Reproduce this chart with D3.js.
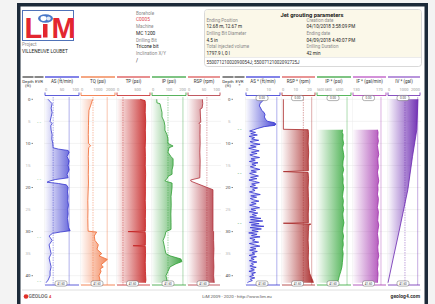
<!DOCTYPE html>
<html>
<head>
<meta charset="utf-8">
<script src="https://cdn.jsdelivr.net/npm/d3@7"></script>
<style>
body{margin:0;background:#f3f3f3;font-family:Roboto,"Open Sans",sans-serif;}
svg{display:block}
</style>
</head>
<body>
<svg id="chart" width="435" height="304"></svg>
<script>
// ---- data ----
var depthMax = 41.6;
var depthTicks = [0,5,10,15,20,25,30,35,40];
var evrLeft = [5.4,18.3,31.5,41.4];
var evrRight = [6.9,17.0,28.3];

var boreholeInfo = [["Borehole","C0005"],["Machine","MC 1200"],["Drilling Bit","Tricone bit"],["Inclination X/Y","/"]];
var jetLeft = [["Ending Position","12.68 m, 12.67 m"],["Drilling Bit Diameter","4.5 in"],["Total injected volume","1797.9 l, 0 l"]];
var jetRight = [["Creation date","04/10/2018 3:58:09 PM"],["Ending date","04/09/2018 4:40:07 PM"],["Drilling Duration","42 min"]];
var jetIds = "55007121002090054J; 55007121002092725J";

// [depth ft, value]
var asLeft = [[0,9],[0.5,15],[1,21],[2,18],[3,21],[4,18],[5,15],[5.5,21],[6,17],[7,18],[8,21],[9,20],[10,23],[11,24],[11.3,40],[11.6,68],[12,71],[13,65],[14,71],[15,68],[16,71],[17,65],[17.8,68],[18.2,30],[18.5,15],[18.8,6],[19.1,40],[19.4,63],[20,68],[21,66],[22,68],[23,67],[24,69],[25,67],[26,68],[27,66],[28,68],[29,69],[29.8,74],[30.1,45],[30.4,22],[31,12],[32,21],[33,12],[34,15],[35,18],[36,12],[37,15],[38,18],[39,15],[40,15],[41,9],[41.6,3]];
var tqLeft = [[0,700],[0.4,650],[0.8,620],[1.5,560],[2.5,470],[4,450],[6,440],[8,430],[10,440],[10.5,570],[11,450],[13,430],[15,440],[17,430],[19,440],[21,420],[23,400],[25,410],[27,400],[29,410],[29.9,420],[30.1,920],[31,780],[32,820],[33,1020],[34,940],[35,1220],[35.5,1060],[36.3,1550],[36.8,1410],[37.5,1180],[38,1310],[38.5,1120],[39,1180],[40,1060],[41,1120],[41.6,1000]];
var tpLeft = [[0,560],[0.3,680],[1,690],[3,685],[5,695],[7,688],[9,692],[11,684],[13,690],[15,686],[17,694],[19,688],[21,690],[23,686],[25,692],[27,688],[29,690],[29.9,685],[30,270],[30.15,685],[31,690],[33.1,688],[33.2,390],[33.35,688],[35,692],[37,686],[39,690],[40,694],[41,700],[41.6,690]];
var ipLeft = [[0,28],[0.8,29],[1,47],[2,53],[3,59],[4,59],[5,71],[6,76],[7,76],[8,88],[9,94],[10,94],[10.6,124],[11,100],[12,94],[13,112],[13.5,124],[14,124],[15,124],[16,118],[17,118],[17.5,94],[18,88],[18.5,76],[19,118],[20,118],[22,112],[24,113],[26,111],[28,112],[29.5,112],[30,82],[31,76],[32,65],[33,71],[34,76],[35,82],[35.5,106],[36.2,170],[36.8,176],[37.3,141],[38,106],[39,94],[40,82],[41,88],[41.6,82]];
var rspLeft = [[0,45],[1,46],[2,44],[2.2,38],[4,39],[5.2,40],[5.4,34],[5.7,38],[8,37.5],[10,38],[12,37],[14,38],[16,37.5],[17.8,37],[18.3,8],[18.6,10],[20.5,78],[22,78],[25,78],[28,78],[29.8,78],[30,80],[32,80],[34,81],[36,80],[38,81],[40,80],[41.6,82]];

var asRight = [[0,8.1],[0.3,7.5],[0.6,6.8],[1,6.2],[1.5,5.9],[2,6.5],[2.5,6.9],[3,8.0],[3.5,8.4],[4,8.1],[4.5,8.6],[5,9.5],[5.3,12.5],[5.6,13.2],[5.9,12.8],[6.2,8.0],[6.6,5.2],[6.9,3.4],
 [7.2,1.6],[7.5,4.2],[7.8,2.1],[8.1,5.0],[8.4,1.4],[8.7,3.8],[9.0,2.5],[9.3,5.6],[9.6,1.8],[9.9,3.1],[10.2,6.2],[10.5,2.0],[10.8,4.5],[11.1,1.2],[11.4,3.6],[11.7,5.8],[12.0,2.4],[12.3,4.9],[12.6,1.7],[12.9,3.3],[13.2,6.0],[13.5,2.2],[13.8,4.1],[14.1,1.5],[14.4,5.3],[14.7,2.6],[15.0,4.4],[15.3,1.9],[15.6,3.9],[15.9,6.1],[16.2,2.3],[16.5,4.6],[16.8,1.6],[17.1,3.5],[17.4,5.5],[17.7,2.0],[18.0,4.8],[18.3,1.3],[18.6,3.7],[18.9,5.9],[19.2,2.5],[19.5,4.2],[19.8,1.8],[20.1,5.1],[20.4,2.9],[20.7,4.0],[21.0,1.5],[21.3,3.8],[21.6,6.3],[21.9,2.1],[22.2,4.7],[22.5,1.9],[22.8,3.4],[23.1,5.7],[23.4,2.4],[23.7,4.5],[24.0,1.6],[24.3,3.9],[24.6,6.0],[24.9,2.2],[25.2,4.3],[25.5,1.4],[25.8,5.2],[26.1,2.8],[26.4,4.6],[26.7,1.7],[27.0,6.6],[27.3,2.0],[27.6,7.4],[27.9,1.5],[28.2,5.8],[28.5,2.3],[28.8,7.9],[29.1,1.8],[29.4,6.8],[29.7,2.6],[30.0,5.4],[30.3,1.2],[30.6,4.9],[30.9,2.4],[31.2,6.2],[31.5,1.7],[31.8,4.0],[32.1,2.9],[32.4,5.6],[32.7,1.5],[33.0,3.8],[33.3,6.1],[33.6,2.0],[33.9,4.4],[34.2,1.6],[34.5,5.0],[34.8,2.7],[35.1,3.9],[35.4,1.4],[35.7,4.6],[36.0,2.2],[36.3,3.6],[36.6,1.5],[36.9,4.8],[37.2,2.4],[37.5,3.3],[37.8,1.7],[38.1,4.5],[38.4,2.1],[38.7,3.7],[39.0,1.3],[39.3,4.2],[39.6,2.5],[39.9,3.4],[40.2,1.6],[40.5,3.9],[40.8,1.9],[41.1,2.8],[41.4,1.2],[41.6,0.6]];
var rspRight = [[0,1],[6.8,1],[6.9,19],[8,19.3],[10,19],[12,19.4],[14,19.1],[16.2,19.2],[16.4,1],[16.6,19],[18,19.3],[20,19],[22,19.2],[24,19.4],[26,19.1],[28,19.2],[28.1,1],[28.3,21],[28.5,19.5],[30,19.2],[32,19],[34,19.3],[36,19.1],[38,19.4],[39.5,20.2],[40.5,21.5],[41.2,22.5],[41.6,22.8]];
var ipRight = [[6.9,6050],[7.5,6045],[8,6060],[9,6055],[10,6070],[11,6050],[12,6065],[13,6075],[14,6060],[15,6055],[16,6070],[17,6050],[18,6062],[19,6058],[20,6072],[21,6060],[22,6050],[23,6066],[24,6058],[25,6070],[26,6055],[27,6062],[28,6075],[29,6060],[30,6052],[31,6068],[32,6058],[33,6064],[34,6050],[35,6062],[36,6055],[37,6048],[38,6040],[39,6020],[40,5995],[41,5975],[41.6,5960]];
var ifRight = [[6.9,167],[7.5,168],[8.5,167.5],[9.5,168.5],[10.5,167],[11.5,168],[12.5,169],[13.5,167.5],[14.5,168],[15.5,168.5],[16.5,167],[17.5,168],[18.5,169],[19.5,167.5],[20.5,168],[21.5,167],[22.5,168.5],[23.5,168],[24.5,167],[25.5,168.5],[26.5,168],[27.5,167.5],[28.5,169],[29.5,168],[30.5,167],[31.5,168],[32.5,168.5],[33.5,167.5],[34.5,168],[35.5,169],[36.5,167.5],[37.5,168],[38.5,167],[39.5,168],[40.5,167.5],[41.6,167]];
var ivRight = [[0,1870],[6.9,1800],[13,1530],[20.5,1240],[30,690],[36,330],[41.6,0]];

// reference lines [dashed, solid]
var asLeftRefs = [24,71], tqLeftRefs = [706,1540], tpLeftRefs = [145,null], ipLeftRefs = [94,182], rspLeftRefs = [59,null];
var asRightRefs = [null,13.6], rspRightRefs = [15.5,21.6], ipRightRefs = [null,6130], ifRightRefs = [null,172.4], ivRightRefs = [1060,1856];

// ---- layout ----
var svg = d3.select("#chart");
var defs = svg.append("defs");
var y = d3.scaleLinear().domain([0,depthMax]).range([99.3,99.3+4.41*depthMax]);
var yTop = 97, yBot = 285;

// frame card
svg.append("rect").attr("x",18.75).attr("y",4.75).attr("width",407.5).attr("height",330)
  .attr("fill","#fff").attr("stroke","#1c2a39").attr("stroke-width",3.5);

// logo
svg.append("rect").attr("x",22.5).attr("y",10.5).attr("width",51).attr("height",30).attr("fill","#fff").attr("stroke","#4f72b8").attr("stroke-width",1);
svg.append("text").attr("x",24.5).attr("y",37.5).text("L").attr("font-size",29).attr("font-weight","bold").attr("fill","#e3262f").attr("font-family","Arial, Liberation Sans, sans-serif");
svg.append("rect").attr("x",43).attr("y",24).attr("width",4.5).attr("height",13.5).attr("fill","#e3262f");
svg.append("text").attr("x",51.5).attr("y",37.5).text("M").attr("font-size",29).attr("font-weight","bold").attr("fill","#e3262f").attr("font-family","Arial, Liberation Sans, sans-serif");
svg.append("ellipse").attr("cx",45.5).attr("cy",18.5).attr("rx",7.5).attr("ry",4.2).attr("fill","#4a78c8");
svg.append("ellipse").attr("cx",43.5).attr("cy",18.5).attr("rx",3).attr("ry",2.4).attr("fill","#fff");
svg.append("ellipse").attr("cx",48.5).attr("cy",18.5).attr("rx",2.2).attr("ry",2).attr("fill","#dfe9f7");
svg.append("text").attr("x",22).attr("y",46).text("Project").attr("font-size",4.6).attr("fill","#8a8a8a");
svg.append("text").attr("x",22).attr("y",53).text("VILLENEUVE LOUBET").attr("font-size",4.8).attr("fill","#222");

// borehole column
boreholeInfo.forEach(function(d,i){
  svg.append("text").attr("x",136).attr("y",14.5+i*13.6).text(d[0]).attr("font-size",4.6).attr("fill","#8a8a8a");
  svg.append("text").attr("x",136).attr("y",21.2+i*13.6).text(d[1]).attr("font-size",4.8).attr("fill",i==0?"#e0474c":"#222");
});

// jet grouting box
svg.append("rect").attr("x",204.5).attr("y",9.5).attr("width",217).attr("height",57).attr("rx",3).attr("fill","#fff").attr("stroke","#cfcfcf").attr("stroke-width",0.8);
svg.append("path").attr("d","M205,57 L205,12.5 Q205,10 207.5,10 L418.5,10 Q421,10 421,12.5 L421,57 Z").attr("fill","#fbf8e9");
svg.append("line").attr("x1",205).attr("x2",421).attr("y1",57.5).attr("y2",57.5).attr("stroke","#ddd").attr("stroke-width",0.6);
svg.append("text").attr("x",312).attr("y",16.5).attr("text-anchor","middle").text("Jet grouting parameters").attr("font-size",5.8).attr("font-weight","bold").attr("fill","#222");
[[jetLeft,206.5],[jetRight,306.5]].forEach(function(c){
  c[0].forEach(function(d,i){
    svg.append("text").attr("x",c[1]).attr("y",21.8+i*13.3).text(d[0]).attr("font-size",4.5).attr("fill","#8a8a8a");
    svg.append("text").attr("x",c[1]).attr("y",28.3+i*13.3).text(d[1]).attr("font-size",4.6).attr("fill","#222");
  });
});
svg.append("text").attr("x",206.5).attr("y",63.5).text(jetIds).attr("font-size",4.5).attr("fill","#333");

// tracks
var tracks = [
  {name:"AS (ft/min)", data:asLeft, domain:[0,100], ticks:[0,50,100], color:"#3535cf", head:"#5a5ae0", x:[44,80], refs:asLeftRefs},
  {name:"TQ (psi)", data:tqLeft, domain:[0,2000], ticks:[0,1000,2000], color:"#f0672e", head:"#f28a5a", x:[80,116], refs:tqLeftRefs},
  {name:"TP (psi)", data:tpLeft, domain:[0,800], ticks:[0,500], color:"#c42020", head:"#e06a6a", x:[116,151], refs:tpLeftRefs},
  {name:"IP (psi)", data:ipLeft, domain:[0,200], ticks:[0,100,200], color:"#2e9e34", head:"#55b05a", x:[151,187], refs:ipLeftRefs},
  {name:"RSP (rpm)", data:rspLeft, domain:[0,100], ticks:[0,50,100], color:"#b0303a", head:"#e07070", x:[187,221], refs:rspLeftRefs},
  {name:"AS * (ft/min)", data:asRight, domain:[0,15], ticks:[0,10], color:"#3030d0", head:"#5a5ae0", x:[245,281], refs:asRightRefs, topBox:true},
  {name:"RSP * (rpm)", data:rspRight, domain:[0,24], ticks:[0,10,20], color:"#a82828", head:"#e07070", x:[281,316], refs:rspRightRefs, topBox:true},
  {name:"IP * (psi)", data:ipRight, domain:[5600,6200], ticks:[5600,5800,6000], color:"#2ea535", head:"#55b05a", x:[316,352], refs:ipRightRefs, topBox:true, tickSize:3.2},
  {name:"IF * (gal/min)", data:ifRight, domain:[130,180], ticks:[130,170], color:"#a232ad", head:"#c46ccc", x:[352,387], refs:ifRightRefs, topBox:true},
  {name:"IV * (gal)", data:ivRight, domain:[0,2000], ticks:[0,1000,2000], color:"#6a26b0", head:"#a070d0", x:[387,421], refs:ivRightRefs, topBox:true}
];

// depth + evr columns
[[22,34,44,"EVR",evrLeft],[222,234,245,"EVR",evrRight]].forEach(function(c,k){
  var hd = svg.append("g");
  hd.append("line").attr("x1",c[0]+0.5).attr("x2",c[1]-0.5).attr("y1",77).attr("y2",77).attr("stroke","#555").attr("stroke-width",1.4);
  hd.append("line").attr("x1",c[1]+0.5).attr("x2",c[2]-0.5).attr("y1",77).attr("y2",77).attr("stroke","#555").attr("stroke-width",1.4);
  hd.append("text").attr("x",(c[0]+c[1])/2).attr("y",82.5).attr("text-anchor","middle").text("Depth").attr("font-size",4.4).attr("fill","#333");
  hd.append("text").attr("x",(c[0]+c[1])/2).attr("y",87.2).attr("text-anchor","middle").text("(ft)").attr("font-size",4.4).attr("fill","#333");
  hd.append("text").attr("x",(c[1]+c[2])/2).attr("y",82.5).attr("text-anchor","middle").text(c[3]).attr("font-size",4.4).attr("fill","#333");
  if(k==1) hd.append("text").attr("x",(c[1]+c[2])/2).attr("y",87.2).attr("text-anchor","middle").text("*").attr("font-size",4.4).attr("fill","#333");
  depthTicks.forEach(function(d){
    var major = d%10==0;
    hd.append("text").attr("x",c[1]-3.5).attr("y",y(d)+1.6).attr("text-anchor","end").text(d)
      .attr("font-size",4.4).attr("fill",major?"#444":"#b5b5b5");
    if(major) hd.append("line").attr("x1",c[1]-2.5).attr("x2",c[1]-1).attr("y1",y(d)).attr("y2",y(d)).attr("stroke","#555").attr("stroke-width",0.7);
  });
  c[4].forEach(function(d){
    hd.append("text").attr("x",(c[1]+c[2])/2).attr("y",y(d)+1.2).attr("text-anchor","middle").text("- -")
      .attr("font-size",4).attr("font-weight","bold").attr("fill",k==0?"#7cc47f":"#3a9c45");
  });
});

tracks.forEach(function(t,i){
  var x = d3.scaleLinear().domain(t.domain).range([t.x[0]+1,t.x[1]-1]).clamp(true);
  var g = svg.append("g");
  var gid = "grad"+i;
  var gr = defs.append("linearGradient").attr("id",gid).attr("gradientUnits","userSpaceOnUse")
    .attr("x1",t.x[0]+1).attr("x2",t.x[1]-1).attr("y1",0).attr("y2",0);
  gr.append("stop").attr("offset",0).attr("stop-color",t.color).attr("stop-opacity",0.03);
  gr.append("stop").attr("offset",1).attr("stop-color",t.color).attr("stop-opacity",1);

  // header
  g.append("line").attr("x1",t.x[0]+1).attr("x2",t.x[1]-1).attr("y1",77).attr("y2",77).attr("stroke",t.head).attr("stroke-width",1.5);
  g.append("text").attr("x",(t.x[0]+t.x[1])/2).attr("y",83).attr("text-anchor","middle").text(t.name).attr("font-size",4.5).attr("fill","#333");
  t.ticks.forEach(function(v){
    var anchor = v==t.domain[0]?"start":(v==t.domain[1]?"end":"middle");
    g.append("text").attr("x",x(v)).attr("y",91).attr("text-anchor",anchor).text(v).attr("font-size",t.tickSize||4).attr("fill","#9a9a9a");
  });
  g.append("path").attr("d","M"+(t.x[0]+1)+",92.5V95.5H"+(t.x[1]-1)+"V92.5").attr("fill","none").attr("stroke",t.color).attr("stroke-width",0.8);

  // grid
  g.append("line").attr("x1",t.x[0]+0.5).attr("x2",t.x[0]+0.5).attr("y1",yTop).attr("y2",yBot).attr("stroke","#ececec").attr("stroke-width",0.5);
  depthTicks.forEach(function(d){
    g.append("line").attr("x1",t.x[0]).attr("x2",t.x[1]).attr("y1",y(d)).attr("y2",y(d)).attr("stroke","#e6e6e6").attr("stroke-width",0.5);
  });

  // data
  var area = d3.area().x0(x(t.domain[0])).x1(function(d){return x(d[1]);}).y(function(d){return y(d[0]);});
  var line = d3.line().x(function(d){return x(d[1]);}).y(function(d){return y(d[0]);});
  g.append("path").datum(t.data).attr("d",area).attr("fill","url(#"+gid+")");
  if(t.refs[0]!=null) g.append("line").attr("x1",x(t.refs[0])).attr("x2",x(t.refs[0])).attr("y1",yTop).attr("y2",yBot)
    .attr("stroke",t.color).attr("stroke-opacity",0.7).attr("stroke-width",0.6).attr("stroke-dasharray","1.5,1");
  if(t.refs[1]!=null) g.append("line").attr("x1",x(t.refs[1])).attr("x2",x(t.refs[1])).attr("y1",yTop).attr("y2",yBot)
    .attr("stroke",t.color).attr("stroke-opacity",0.55).attr("stroke-width",0.7);
  g.append("path").datum(t.data).attr("d",line).attr("fill","none").attr("stroke",t.color).attr("stroke-width",0.8);

  // bottom axis line and value boxes
  g.append("line").attr("x1",t.x[0]+1).attr("x2",t.x[1]-1).attr("y1",yBot).attr("y2",yBot).attr("stroke",t.color).attr("stroke-width",0.8);
  var cx = (t.x[0]+t.x[1])/2 - 1;
  var boxes = t.topBox ? [yTop+1,yBot-1.5] : [yBot-1.5];
  boxes.forEach(function(by){
    g.append("rect").attr("x",cx-6).attr("y",by-2.6).attr("width",12).attr("height",5.2).attr("rx",2)
      .attr("fill","#fff").attr("stroke","#666").attr("stroke-width",0.5);
    g.append("text").attr("x",cx).attr("y",by+1.1).attr("text-anchor","middle").text(by<150?"0.00":"41.60").attr("font-size",3).attr("fill","#444");
  });
});

// footer
svg.append("line").attr("x1",22).attr("x2",421).attr("y1",290).attr("y2",290).attr("stroke","#d8d8d8").attr("stroke-width",0.8);
svg.append("circle").attr("cx",26).attr("cy",296.5).attr("r",2.3).attr("fill","#e0302a");
svg.append("text").attr("x",28.5).attr("y",298.3).text("GEOLOG").attr("font-size",5).attr("font-weight","bold").attr("fill","#777");
svg.append("text").attr("x",49).attr("y",298.3).text("4").attr("font-size",4).attr("font-weight","bold").attr("fill","#e0302a");
svg.append("text").attr("x",237).attr("y",298).attr("text-anchor","middle").text("LiM 2009 - 2020 - http://www.lim.eu").attr("font-size",4.4).attr("fill","#555");
svg.append("text").attr("x",420).attr("y",298.3).attr("text-anchor","end").text("geolog4.com").attr("font-size",5).attr("font-weight","bold").attr("fill","#333");
</script>
</body>
</html>
